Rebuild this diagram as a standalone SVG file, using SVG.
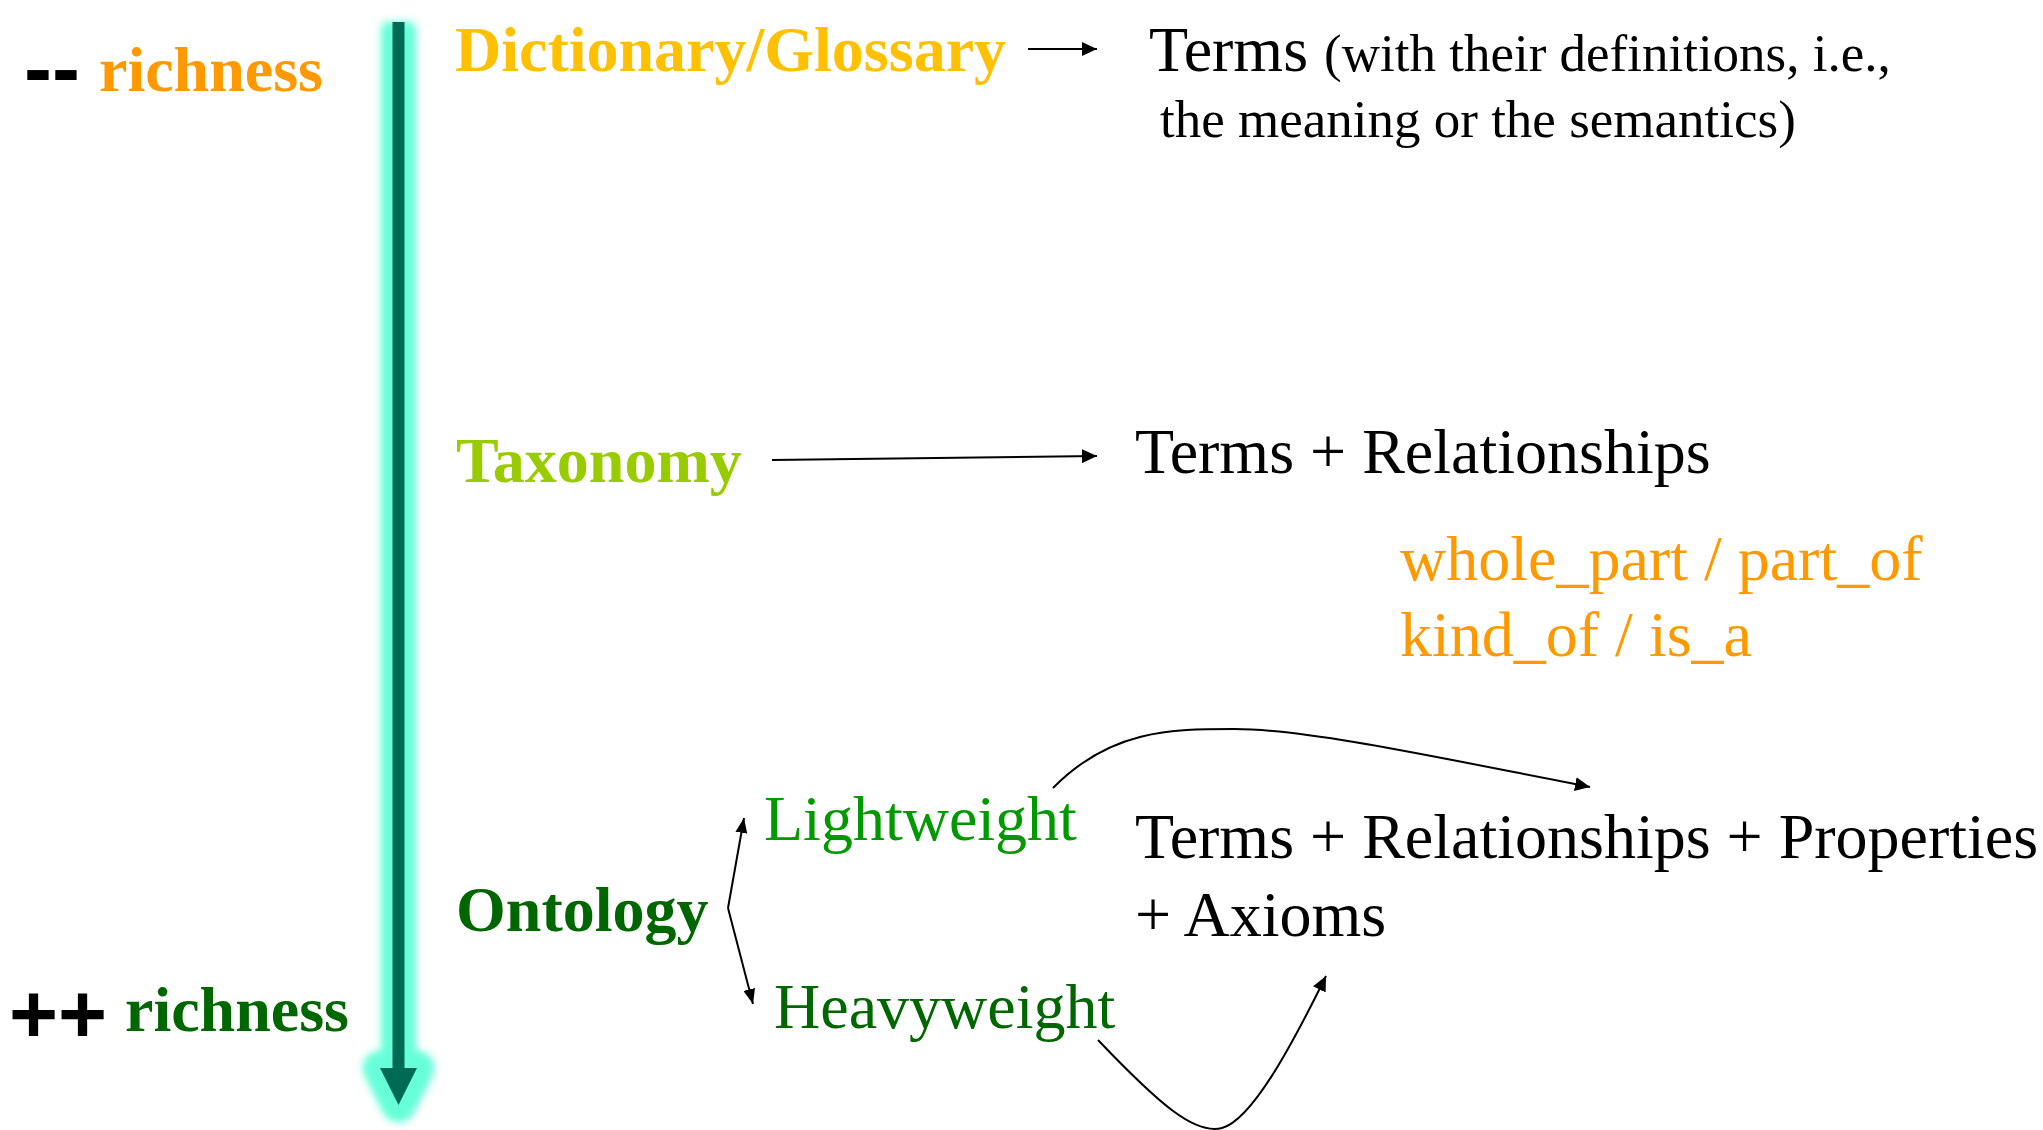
<svg xmlns="http://www.w3.org/2000/svg" width="2043" height="1130" viewBox="0 0 2043 1130">
  <defs>
    <style>
      .serif { font-family: "Liberation Serif", "Times New Roman", serif; }
      .b { font-weight: bold; }
      .sym { font-family: "Liberation Sans", Arial, sans-serif; font-weight: bold; font-size: 84px; fill: #000; }
      .lvl { font-size: 64px; font-weight: bold; }
      .txt { font-size: 64px; fill: #000; }
      .small { font-size: 53px; }
      .conn { fill: none; stroke: #000; stroke-width: 2; }
    </style>
    <marker id="head" viewBox="0 0 15 14" refX="15" refY="7" markerWidth="15" markerHeight="14" markerUnits="userSpaceOnUse" orient="auto">
      <path d="M0,0 L15,7 L0,14 Z" fill="#000"/>
    </marker>
    <marker id="headSm" viewBox="0 0 15 12" refX="15" refY="6" markerWidth="15" markerHeight="12" markerUnits="userSpaceOnUse" orient="auto">
      <path d="M0,0 L15,6 L0,12 Z" fill="#000"/>
    </marker>
    <!-- soft halo: blurred copy, doubled for brightness -->
    <filter id="glow" x="-2" y="-0.1" width="5" height="1.2">
      <feGaussianBlur stdDeviation="5" result="b"/>
      <feMerge>
        <feMergeNode in="b"/>
        <feMergeNode in="b"/>
      </feMerge>
    </filter>
  </defs>

  <rect width="2043" height="1130" fill="#fff"/>

  <!-- richness scale -->
  <g id="richness-low">
    <text class="sym" x="24" y="97">--</text>
    <text class="serif b" x="99" y="91" font-size="64" fill="#FF9900">richness</text>
  </g>
  <g id="richness-high">
    <text class="sym" x="9" y="1043">++</text>
    <text class="serif b" x="125" y="1031" font-size="64" fill="#006600">richness</text>
  </g>

  <!-- glowing vertical scale arrow -->
  <g id="scale-arrow">
    <g filter="url(#glow)" fill="#66FFD9" stroke="#66FFD9" stroke-width="30" stroke-linejoin="round">
      <line x1="398.5" y1="24" x2="398.5" y2="1068"/>
      <path d="M380,1068 L417,1068 L398.5,1105 Z"/>
    </g>
    <g fill="#006B54">
      <rect x="392.5" y="22" width="12" height="1048"/>
      <path d="M380,1068 L417,1068 L398.5,1105 Z"/>
    </g>
  </g>

  <!-- levels -->
  <g id="dictionary">
    <text class="serif lvl" x="455" y="71" fill="#FFC000">Dictionary/Glossary</text>
  </g>
  <g id="taxonomy">
    <text class="serif lvl" x="456" y="482" fill="#99CC00">Taxonomy</text>
  </g>
  <g id="ontology">
    <text class="serif lvl" x="456" y="931" fill="#006600">Ontology</text>
  </g>
  <g id="lightweight">
    <text class="serif" x="764" y="840" font-size="64" fill="#009900">Lightweight</text>
  </g>
  <g id="heavyweight">
    <text class="serif" x="774" y="1028" font-size="64" fill="#006600">Heavyweight</text>
  </g>

  <!-- descriptions -->
  <g id="terms">
    <text class="serif txt" x="1149" y="71">Terms <tspan class="small">(with their definitions, i.e.,</tspan></text>
    <text class="serif txt small" x="1160" y="137">the meaning or the semantics)</text>
  </g>
  <g id="terms-relationships">
    <text class="serif txt" x="1135" y="473">Terms + Relationships</text>
  </g>
  <g id="relationship-kinds">
    <text class="serif" x="1400" y="580" font-size="64" fill="#FF9900">whole_part / part_of</text>
    <text class="serif" x="1400" y="656" font-size="64" fill="#FF9900">kind_of / is_a</text>
  </g>
  <g id="terms-full">
    <text class="serif txt" x="1135" y="858">Terms + Relationships + Properties</text>
    <text class="serif txt" x="1135" y="936">+ Axioms</text>
  </g>

  <!-- connectors -->
  <g id="connectors">
    <line class="conn" x1="1028" y1="49" x2="1097" y2="49" marker-end="url(#head)"/>
    <line class="conn" x1="772" y1="460" x2="1097" y2="456" marker-end="url(#head)"/>
    <line class="conn" x1="728" y1="908" x2="744" y2="818" marker-end="url(#headSm)"/>
    <line class="conn" x1="728" y1="908" x2="753" y2="1004" marker-end="url(#headSm)"/>
    <path class="conn" d="M1053,788 C1110,730 1170,729 1234,729 C1310,729 1450,760 1590,787" marker-end="url(#head)"/>
    <path class="conn" d="M1098,1040 C1160,1105 1195,1135 1222,1128 C1252,1120 1292,1045 1326,976" marker-end="url(#head)"/>
  </g>
</svg>
